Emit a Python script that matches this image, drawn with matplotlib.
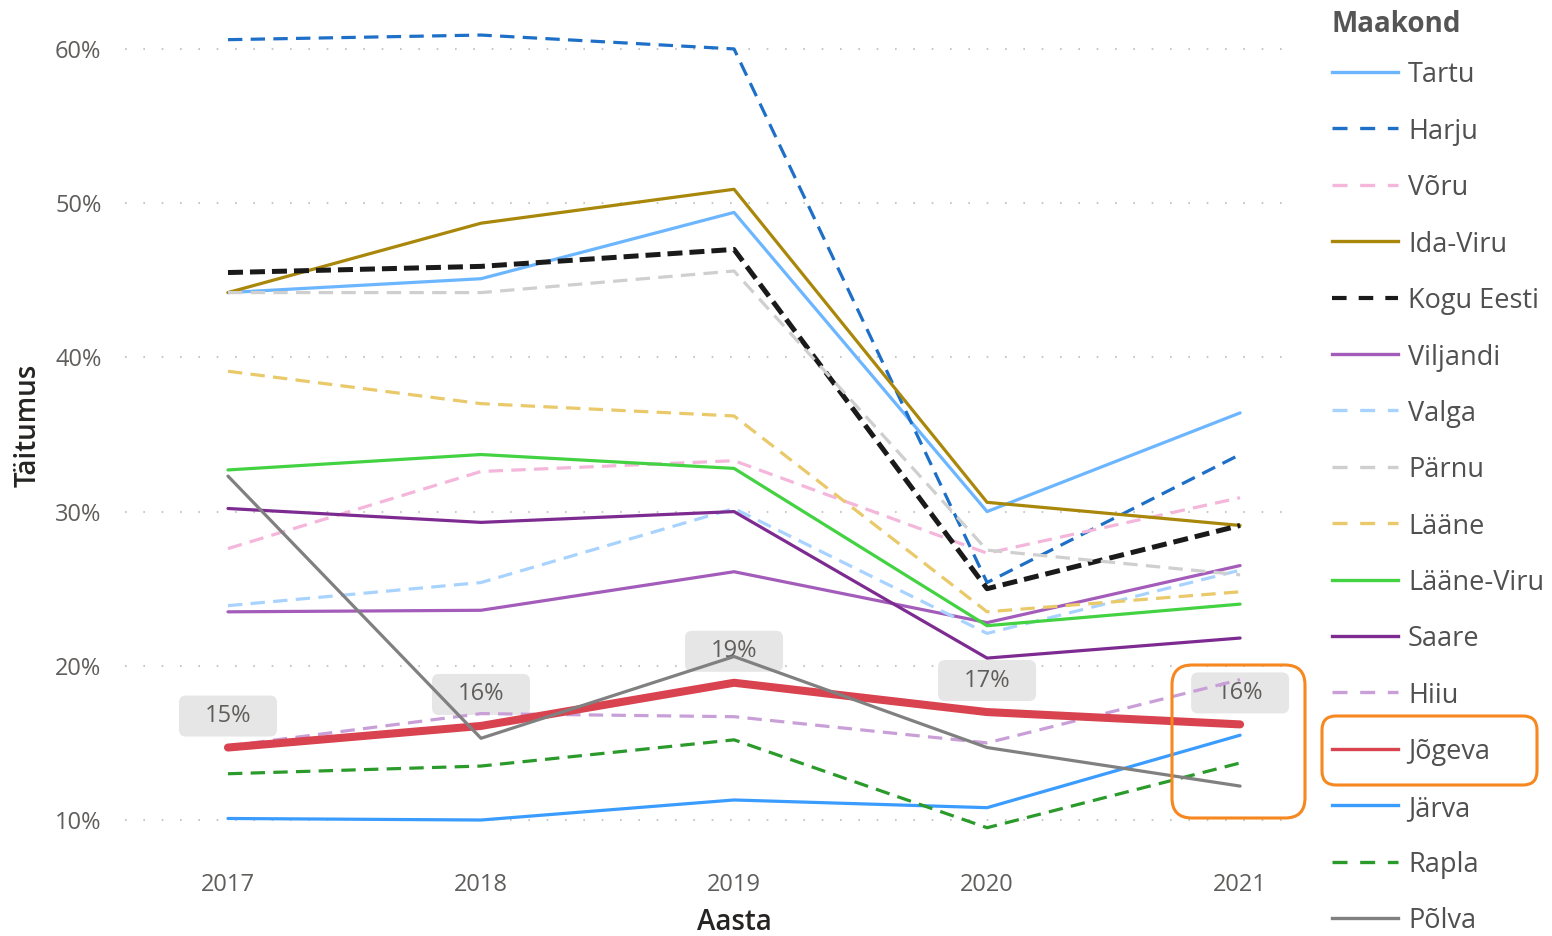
import matplotlib
matplotlib.use("Agg")
import matplotlib.pyplot as plt
import matplotlib.transforms as mtransforms
from matplotlib.lines import Line2D
from matplotlib.patches import FancyBboxPatch

plt.rcParams['font.family'] = ['Open Sans', 'DejaVu Sans']

years = [2017, 2018, 2019, 2020, 2021]

tartu = [44.2, 45.1, 49.4, 30.0, 36.4]
harju = [60.6, 60.9, 60.0, 25.4, 33.7]
voru = [27.6, 32.6, 33.3, 27.3, 30.9]
ida_viru = [44.2, 48.7, 50.9, 30.6, 29.1]
kogu_eesti = [45.5, 45.9, 47.0, 25.0, 29.1]
viljandi = [23.5, 23.6, 26.1, 22.8, 26.5]
valga = [23.9, 25.4, 30.2, 22.1, 26.2]
parnu = [44.2, 44.2, 45.6, 27.5, 25.9]
laane = [39.1, 37.0, 36.2, 23.5, 24.8]
laane_viru = [32.7, 33.7, 32.8, 22.6, 24.0]
saare = [30.2, 29.3, 30.0, 20.5, 21.8]
hiiu = [14.8, 16.9, 16.7, 15.0, 19.1]
jogeva = [14.7, 16.1, 18.9, 17.0, 16.2]
jarva = [10.1, 10.0, 11.3, 10.8, 15.5]
rapla = [13.0, 13.5, 15.2, 9.5, 13.7]
polva = [32.3, 15.3, 20.6, 14.7, 12.2]

names = ["Tartu", "Harju", "Võru", "Ida-Viru", "Kogu Eesti", "Viljandi", "Valga",
         "Pärnu", "Lääne", "Lääne-Viru", "Saare", "Hiiu", "Jõgeva", "Järva",
         "Rapla", "Põlva"]
values = [tartu, harju, voru, ida_viru, kogu_eesti, viljandi, valga, parnu,
          laane, laane_viru, saare, hiiu, jogeva, jarva, rapla, polva]
colors = ["#6CB6FF", "#1D6FC7", "#F4B6DA", "#A8870A", "#1A1A1A", "#A35CBA",
          "#A9D3FF", "#CFCFCF", "#E9C96A", "#42D242", "#7D2B91", "#C99FD8",
          "#D8434F", "#3A9CFF", "#2A9A2A", "#808080"]
dashed = [False, True, True, False, True, False, True, True, True, False,
          False, True, False, False, True, False]

W, H = 1552, 936
fig = plt.figure(figsize=(W / 100, H / 100), dpi=100)
ax = fig.add_axes([125 / W, 1 - 845 / H, 1170 / W, 830 / H])

for name, vals, col, ds in zip(names, values, colors, dashed):
    lw = 2.3
    if name == "Kogu Eesti":
        lw = 3.6
    if name == "Jõgeva":
        lw = 5.8
    line, = ax.plot(years, vals, color=col, lw=lw, solid_capstyle='round',
                    solid_joinstyle='round', zorder=3)
    if ds:
        line.set_dashes((4.5, 2.6) if lw < 3 else (3.0, 1.4))

# value labels for Jõgeva
for x, v in zip(years, jogeva):
    tr = mtransforms.Affine2D() + mtransforms.ScaledTranslation(x, v, ax.transData)
    box = FancyBboxPatch((-49, 11), 98, 41, boxstyle="round,pad=0,rounding_size=7",
                         fc="#E6E6E6", ec="none", transform=tr, zorder=2)
    ax.add_patch(box)
    ax.text(0, 31.5, f"{round(v)}%", transform=tr, ha='center', va='center',
            fontsize=17, color="#605E5C", zorder=2.5)

ax.set_xlim(2016.593, 2021.217)
ax.set_ylim(8.38, 62.2)
ax.set_xticks(years)
ax.set_xticklabels([str(y) for y in years])
ax.set_yticks([10, 20, 30, 40, 50, 60])
ax.set_yticklabels(["10%", "20%", "30%", "40%", "50%", "60%"])
ax.tick_params(length=0, labelsize=17, labelcolor="#605E5C")
ax.tick_params(axis='x', pad=20)
ax.tick_params(axis='y', pad=17)
ax.grid(axis='y', color="#C8C8C8", lw=1.5, linestyle=(0, (0.8, 8)))
ax.set_axisbelow(True)
for s in ax.spines.values():
    s.set_visible(False)

fig.text(734 / W, 1 - 922 / H, "Aasta", ha='center', va='center',
         fontsize=20, fontweight='semibold', color="#252423")
fig.text(28 / W, 1 - 425 / H, "Täitumus", ha='center', va='center',
         rotation=90, fontsize=20, fontweight='semibold', color="#252423")

# legend
px = mtransforms.IdentityTransform()
fig.text(1332 / W, 1 - 24 / H, "Maakond", ha='left', va='center',
         fontsize=20, fontweight='bold', color="#555555")
for i, (name, col, ds) in enumerate(zip(names, colors, dashed)):
    y = H - (72 + i * 56.4)
    lw = 3.0 if name == "Kogu Eesti" else 2.4
    ln = Line2D([1332, 1398], [y, y], color=col, lw=lw, transform=px)
    if ds:
        ln.set_dashes((4.5, 3.8) if lw < 3 else (3.5, 2.9))
    fig.add_artist(ln)
    fig.text(1408 / W, y / H, name, ha='left', va='center_baseline',
             fontsize=19.5, color="#505050")

# highlight frames
for x0, y0, x1, y1, r in [(1172, 665, 1305, 818, 20), (1322, 716, 1537, 785, 14)]:
    fig.add_artist(FancyBboxPatch((x0, H - y1), x1 - x0, y1 - y0,
                                  boxstyle=f"round,pad=0,rounding_size={r}",
                                  fc="none", ec="#F7871F", lw=2.2, transform=px))

fig.savefig("out.png", dpi=100)
